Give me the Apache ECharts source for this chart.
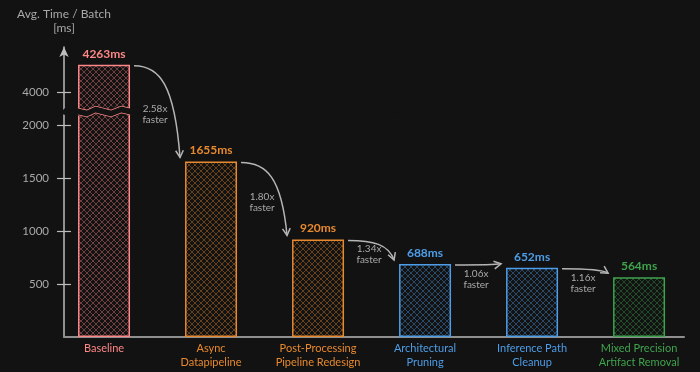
<!DOCTYPE html>
<html><head><meta charset="utf-8">
<script src="https://cdn.jsdelivr.net/npm/echarts@6/dist/echarts.min.js"></script>
<style>html,body{margin:0;padding:0;background:#121212}#c{width:700px;height:372px}</style>
</head><body><div id="c"></div>
<script>
// ---- data ----
const categories = ['Baseline', 'Async\nDatapipeline', 'Post-Processing\nPipeline Redesign', 'Architectural\nPruning', 'Inference Path\nCleanup', 'Mixed Precision\nArtifact Removal'];
const timesMs = [4263, 1655, 920, 688, 652, 564];
const speedups = ['2.58x', '1.80x', '1.34x', '1.06x', '1.16x'];
const yTickValues = [500, 1000, 1500, 2000, 4000];
const categoryIndex = [0, 1, 2, 3, 4, 5];

// ---- style ----
const BG = '#121212';
const barColors = ['#ff8787', '#e8892e', '#e8892e', '#4d9de8', '#4d9de8', '#3fa34d'];
const axisColor = '#bdbdbd';
const textGray = '#a9a9a9';
const FONT = 'Lato, "Noto Sans", sans-serif';

function hatch(color) {
  const s = 6, cv = document.createElement('canvas');
  cv.width = s; cv.height = s;
  const g = cv.getContext('2d');
  g.strokeStyle = color; g.globalAlpha = 0.4; g.lineWidth = 1;
  g.beginPath();
  g.moveTo(-1, -1); g.lineTo(s + 1, s + 1);
  g.moveTo(-1, s + 1); g.lineTo(s + 1, -1);
  g.stroke();
  return { image: cv, repeat: 'repeat' };
}

const yBreaks = [{ start: 2100, end: 3850, gap: '2%' }];
const Y_MAX = 4430;
const GRID_TOP = 47, GRID_BOTTOM = 35;

const chart = echarts.init(document.getElementById('c'), null, { renderer: 'canvas' });
chart.setOption({
  backgroundColor: BG,
  animation: false,
  grid: [
    { left: 64, right: 16, top: GRID_TOP, bottom: GRID_BOTTOM, outerBoundsMode: 'none' },
    { left: 78, right: 570, top: GRID_TOP, bottom: GRID_BOTTOM, outerBoundsMode: 'none', z: 8 }
  ],
  xAxis: [{
    type: 'value', min: -0.374, max: 5.42,
    axisLine: { show: true, onZero: false, lineStyle: { color: '#8f8f8f', width: 2 } },
    axisTick: { show: false }, splitLine: { show: false },
    axisLabel: {
      customValues: categoryIndex,
      formatter: v => categories[v],
      color: (v, i) => barColors[Math.round(typeof v === 'number' ? v : i)],
      fontFamily: FONT, fontSize: 11, lineHeight: 14, margin: 4
    }
  }, {
    gridIndex: 1, type: 'value', min: 0, max: 1, show: false
  }],
  yAxis: [{
    type: 'value', min: 0, max: Y_MAX, position: 'left',
    breaks: yBreaks,
    breakArea: { show: true, itemStyle: { color: BG, borderColor: BG, borderWidth: 0, opacity: 1 }, zigzagAmplitude: 2, zigzagZ: 3 },
    name: 'Avg. Time / Batch\n[ms]', nameLocation: 'end', nameGap: 12,
    nameTextStyle: { color: textGray, fontFamily: FONT, fontSize: 12, lineHeight: 14, align: 'center' },
    axisLine: { show: true, onZero: false, symbol: ['none', 'arrow'], symbolSize: [7, 10], lineStyle: { color: axisColor, width: 1.5 } },
    axisTick: { show: true, customValues: yTickValues, length: 7, lineStyle: { color: axisColor, width: 1.2 } },
    axisLabel: { customValues: yTickValues, formatter: v => String(v), color: textGray, fontFamily: FONT, fontSize: 11.5, margin: 15 },
    splitLine: { show: false }
  }, {
    type: 'value', min: 0, max: Y_MAX, position: 'left',
    breaks: yBreaks,
    breakArea: { show: false },
    axisLine: { show: false, onZero: false },
    axisTick: { show: true, inside: true, customValues: yTickValues, length: 7, lineStyle: { color: axisColor, width: 1.2 } },
    axisLabel: { show: false }, splitLine: { show: false }
  }, {
    gridIndex: 1, type: 'value', min: 0, max: Y_MAX, position: 'left', z: 8,
    breaks: yBreaks,
    breakArea: { show: true, itemStyle: { color: BG, borderColor: barColors[0], borderWidth: 1.5, borderType: 'solid', opacity: 1 }, zigzagAmplitude: 2, zigzagZ: 4 },
    axisLine: { show: false, onZero: false }, axisTick: { show: false },
    axisLabel: { show: false }, splitLine: { show: false }
  }],
  series: [{
    type: 'bar', yAxisIndex: 0, barWidth: 52,
    data: timesMs.map((v, i) => ({
      value: [categoryIndex[i], v],
      itemStyle: { color: hatch(barColors[i]), borderColor: barColors[i], borderWidth: 1.5 },
      label: { color: barColors[i] }
    })),
    label: { show: true, position: 'top', distance: 5, formatter: p => p.value[1] + 'ms', fontFamily: FONT, fontSize: 12, fontWeight: 'bold' }
  }, {
    type: 'custom', yAxisIndex: 0, clip: false, z: 10,
    data: speedups.map((s, i) => [categoryIndex[i], timesMs[i], timesMs[i + 1], i]),
    renderItem: (params, api) => {
      const i = api.value(0);
      const a = api.coord([i, api.value(1)]);
      const b = api.coord([i + 1, api.value(2)]);
      const x1 = a[0] + 30, y1 = a[1] + 1, x2 = b[0] - 31, y2 = b[1] - 4;
      const dx = x2 - x1, dy = y2 - y1;
      const c1 = [x1 + 0.55 * dx, y1], c2 = [x2 - 0.12 * dx, y1 + 0.2 * dy];
      let tx = x2 - c2[0], ty = y2 - c2[1];
      const L = Math.hypot(tx, ty) || 1; tx /= L; ty /= L;
      const ang = 0.5, len = 8;
      const w1 = [x2 - len * (tx * Math.cos(ang) - ty * Math.sin(ang)), y2 - len * (ty * Math.cos(ang) + tx * Math.sin(ang))];
      const w2 = [x2 - len * (tx * Math.cos(-ang) - ty * Math.sin(-ang)), y2 - len * (ty * Math.cos(-ang) + tx * Math.sin(-ang))];
      const col = '#b5b5b5';
      const ty0 = Math.max((y1 + y2) / 2 + 3, y1 + 14);
      return {
        type: 'group',
        children: [
          { type: 'bezierCurve', shape: { x1, y1, x2, y2, cpx1: c1[0], cpy1: c1[1], cpx2: c2[0], cpy2: c2[1] }, style: { stroke: col, fill: null, lineWidth: 1.5 } },
          { type: 'polyline', shape: { points: [w1, [x2, y2], w2] }, style: { stroke: col, fill: null, lineWidth: 1.5 } },
          { type: 'text', x: (x1 + x2) / 2 - 2, y: ty0, style: { text: speedups[api.value(3)] + '\nfaster', fill: textGray, font: '10px ' + FONT, align: 'center', verticalAlign: 'middle', lineHeight: 11 } }
        ]
      };
    }
  }]
});
</script></body></html>
